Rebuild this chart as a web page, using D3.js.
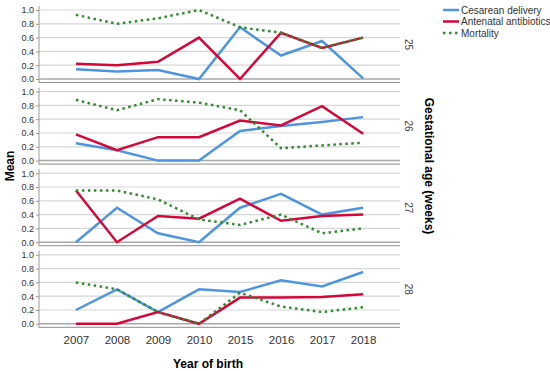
<!DOCTYPE html>
<html>
<head>
<meta charset="utf-8">
<script src="https://cdn.jsdelivr.net/npm/d3@7"></script>
<style>
  body { margin: 0; background: #fff; }
  svg { font-family: "Liberation Sans", Arial, sans-serif; }
</style>
</head>
<body>
<svg id="chart" width="550" height="371"></svg>
<script>
const years = ["2007", "2008", "2009", "2010", "2015", "2016", "2017", "2018"];
const ages = ["25", "26", "27", "28"];
const yTicks = [0, 0.2, 0.4, 0.6, 0.8, 1.0];

// one array per gestational age, per series
const cesarean = [
  [0.14, 0.11, 0.13, 0.00, 0.75, 0.34, 0.55, 0.01],
  [0.25, 0.15, 0.00, 0.00, 0.43, 0.50, 0.56, 0.63],
  [0.00, 0.50, 0.13, 0.00, 0.50, 0.70, 0.40, 0.50],
  [0.20, 0.50, 0.17, 0.50, 0.46, 0.63, 0.54, 0.75]
];
const antibiotics = [
  [0.22, 0.20, 0.25, 0.60, 0.00, 0.67, 0.45, 0.60],
  [0.38, 0.15, 0.34, 0.34, 0.58, 0.51, 0.79, 0.39],
  [0.75, 0.00, 0.38, 0.34, 0.63, 0.31, 0.38, 0.40],
  [0.00, 0.00, 0.17, 0.00, 0.38, 0.38, 0.39, 0.43]
];
const mortality = [
  [0.93, 0.80, 0.88, 1.00, 0.75, 0.67, 0.45, 0.60],
  [0.88, 0.73, 0.89, 0.84, 0.73, 0.18, 0.22, 0.26],
  [0.75, 0.75, 0.62, 0.33, 0.25, 0.40, 0.13, 0.20],
  [0.60, 0.50, 0.17, 0.00, 0.45, 0.25, 0.17, 0.24]
];

const series = [
  { name: "Cesarean delivery", values: cesarean, color: "#4e95df", dash: null },
  { name: "Antenatal antibiotics", values: antibiotics, color: "#d3073a", dash: null },
  { name: "Mortality", values: mortality, color: "#2e8b2e", dash: "2.5,3.5" }
];

const svg = d3.select("#chart");
const left = 39, right = 400;
const panelStep = 81.6, panelTop = 5;

const x = d3.scalePoint().domain(years).range([left, right]).padding(0.9);

ages.forEach((age, i) => {
  const top = panelTop + panelStep * i;
  const y = d3.scaleLinear().domain([0, 1]).range([top + 74, top + 5]);
  const g = svg.append("g");

  // grid lines
  g.selectAll("line.grid")
    .data(yTicks)
    .enter()
    .append("line")
    .attr("x1", left)
    .attr("x2", right)
    .attr("y1", d => y(d))
    .attr("y2", d => y(d))
    .attr("stroke", d => d === 0 ? "#a8a8a8" : "#d6d6d6")
    .attr("stroke-width", d => d === 0 ? 1.5 : 1.2);

  // panel bottom border
  g.append("line")
    .attr("x1", left).attr("x2", right)
    .attr("y1", top + 77.5).attr("y2", top + 77.5)
    .attr("stroke", "#8c8c8c").attr("stroke-width", 1);

  // y axis
  const yAxis = g.append("g")
    .attr("transform", `translate(${left},0)`)
    .call(d3.axisLeft(y).tickValues(yTicks).tickFormat(d3.format(".1f")).tickSize(3));
  yAxis.select(".domain").remove();
  yAxis.selectAll(".tick line").attr("stroke", "#999");
  yAxis.selectAll("text").attr("fill", "#333").style("font-size", "9px").attr("x", -5);
  g.append("line")
    .attr("x1", left).attr("x2", left)
    .attr("y1", top + 1).attr("y2", top + 78)
    .attr("stroke", "#999").attr("stroke-width", 1);

  // lines
  const line = d3.line()
    .x((d, j) => x(years[j]))
    .y(d => y(d));

  series.forEach(s => {
    g.append("path")
      .datum(s.values[i])
      .attr("d", line)
      .attr("fill", "none")
      .attr("stroke", s.color)
      .attr("stroke-width", 2.5)
      .attr("stroke-dasharray", s.dash)
      .attr("stroke-linejoin", "miter");
  });

  // strip label
  const cy = (y(0) + y(1)) / 2;
  svg.append("text")
    .attr("transform", `translate(405,${cy}) rotate(90)`)
    .attr("text-anchor", "middle")
    .attr("fill", "#444")
    .style("font-size", "10px")
    .text(age);
});

// x axis labels
const bottom = panelTop + panelStep * 3 + 78;
const xAxis = svg.append("g")
  .attr("transform", `translate(0,${bottom})`)
  .call(d3.axisBottom(x).tickSize(0));
xAxis.select(".domain").remove();
xAxis.selectAll("text")
  .attr("fill", "#333")
  .attr("dy", "1.15em")
  .style("font-size", "11.5px");

svg.append("text")
  .attr("x", 208)
  .attr("y", 368)
  .attr("text-anchor", "middle")
  .style("font-size", "12px")
  .style("font-weight", "bold")
  .text("Year of birth");

svg.append("text")
  .attr("transform", "translate(14,166) rotate(-90)")
  .attr("text-anchor", "middle")
  .style("font-size", "12px")
  .style("font-weight", "bold")
  .text("Mean");

svg.append("text")
  .attr("transform", "translate(425,166) rotate(90)")
  .attr("text-anchor", "middle")
  .style("font-size", "12px")
  .style("font-weight", "bold")
  .text("Gestational age (weeks)");

// legend
const legend = svg.append("g").attr("transform", "translate(443,10)");
series.forEach((s, k) => {
  const row = legend.append("g").attr("transform", `translate(0,${k * 11.5})`);
  row.append("line")
    .attr("x1", 0).attr("x2", 16)
    .attr("y1", 0).attr("y2", 0)
    .attr("stroke", s.color)
    .attr("stroke-width", 2.5)
    .attr("stroke-dasharray", s.dash);
  row.append("text")
    .attr("x", 18)
    .attr("y", 3.5)
    .attr("fill", "#333")
    .style("font-size", "10px")
    .text(s.name);
});
</script>
</body>
</html>
